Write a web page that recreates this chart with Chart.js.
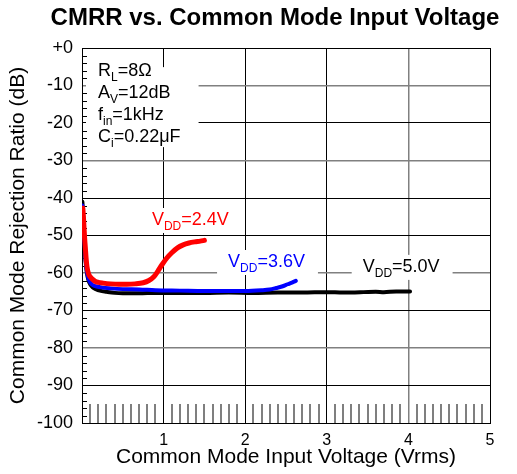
<!DOCTYPE html>
<html lang="en">
<head>
<meta charset="UTF-8">
<title>CMRR vs. Common Mode Input Voltage</title>
<script src="https://cdn.jsdelivr.net/npm/chart.js@4"></script>
<style>
    body { margin: 0; background: #fff; }
    #wrap { width: 517px; height: 474px; }
</style>
</head>
<body>
<div id="wrap"><canvas id="chart" width="517" height="474"></canvas></div>
<script>
// curves, [input Vrms, CMRR dB]
const vdd24 = [
    [0.01, -42.7], [0.02, -46], [0.03, -50], [0.04, -53], [0.05, -56], [0.06, -58.2],
    [0.08, -60.2], [0.10, -61], [0.12, -61.5], [0.16, -62.2], [0.2, -62.5], [0.26, -62.7],
    [0.35, -62.9], [0.45, -63], [0.55, -63], [0.65, -62.9], [0.75, -62.6], [0.82, -62],
    [0.88, -61], [0.93, -59.5], [0.98, -57.8], [1.04, -56], [1.1, -54.6], [1.17, -53.3],
    [1.24, -52.5], [1.31, -52], [1.38, -51.7], [1.45, -51.5], [1.5, -51.3]
];
const vdd36 = [
    [0.005, -42], [0.015, -45.5], [0.025, -49.5], [0.035, -53], [0.045, -56.5], [0.06, -59.5],
    [0.08, -61.5], [0.1, -62.5], [0.13, -63.2], [0.18, -63.6], [0.25, -63.9], [0.35, -64.1],
    [0.5, -64.3], [0.7, -64.4], [0.9, -64.6], [1.2, -64.7], [1.5, -64.8], [1.8, -64.8],
    [2.0, -64.8], [2.2, -64.6], [2.3, -64.4], [2.38, -64.0], [2.45, -63.6], [2.52, -63.0],
    [2.58, -62.5], [2.62, -62.1]
];
const vdd50 = [
    [0.005, -41], [0.015, -45], [0.025, -49.5], [0.035, -53.5], [0.045, -57], [0.06, -60],
    [0.08, -62], [0.1, -63], [0.13, -63.8], [0.17, -64.3], [0.22, -64.7], [0.3, -65],
    [0.4, -65.3], [0.5, -65.4], [0.7, -65.4], [0.9, -65.3], [1.2, -65.3], [1.5, -65.3],
    [1.8, -65.2], [2.1, -65.3], [2.4, -65.2], [2.7, -65.2], [3.0, -65.1], [3.2, -65.2],
    [3.45, -65.1], [3.6, -65.0], [3.7, -65.1], [3.85, -64.9], [4.02, -64.9]
];

const chartTitle = 'CMRR vs. Common Mode Input Voltage';
const xTitle = 'Common Mode Input Voltage (Vrms)';
const yTitle = 'Common Mode Rejection Ratio (dB)';

// text pieces: [main, subscript, rest]
const conditions = [['R', 'L', '=8Ω'], ['A', 'V', '=12dB'], ['f', 'in', '=1kHz'], ['C', 'i', '=0.22μF']];
const curveLabels = [['V', 'DD', '=2.4V'], ['V', 'DD', '=3.6V'], ['V', 'DD', '=5.0V']];

// where the texts sit, in data units (left edge, baseline)
const conditionsAt = [0.196, -7.5];
const curveLabelsAt = [[0.857, -47.2], [1.79, -58.4], [3.44, -59.7]];
const curveColors = ['#ff0000', '#0000ff', '#000000'];

// some grid lines in the original come out grey instead of black
const xGreyLines = [4];
const yGreyLines = [-10, -30, -60, -80];

const FONT = '"Liberation Sans", Arial, Helvetica, sans-serif';

function toPoints(arr) {
    return arr.map(p => ({ x: p[0], y: p[1] }));
}

function partsWidth(ctx, parts) {
    ctx.font = '18px ' + FONT;
    let w = ctx.measureText(parts[0]).width + ctx.measureText(parts[2]).width;
    ctx.font = '12px ' + FONT;
    return w + ctx.measureText(parts[1]).width;
}

function drawParts(ctx, parts, x, y, color) {
    ctx.fillStyle = color;
    ctx.textAlign = 'left';
    ctx.textBaseline = 'alphabetic';
    ctx.font = '18px ' + FONT;
    ctx.fillText(parts[0], x, y);
    x += ctx.measureText(parts[0]).width;
    ctx.font = '12px ' + FONT;
    ctx.fillText(parts[1], x, y + 5);
    x += ctx.measureText(parts[1]).width;
    ctx.font = '18px ' + FONT;
    ctx.fillText(parts[2], x, y);
}

const extras = {
    id: 'extras',
    beforeDatasetsDraw(chart) {
        const { ctx, chartArea: a, scales: { x, y } } = chart;
        ctx.save();

        // test conditions block (white behind it hides the grid)
        const cx = x.getPixelForValue(conditionsAt[0]);
        const cy = y.getPixelForValue(conditionsAt[1]);
        let maxW = 0;
        conditions.forEach(p => { maxW = Math.max(maxW, partsWidth(ctx, p)); });
        ctx.fillStyle = '#fff';
        ctx.fillRect(a.left + 4, cy - 9, cx - a.left - 4 + maxW + 18, 22 * 3 + 14);
        conditions.forEach((p, i) => drawParts(ctx, p, cx, cy + i * 22, '#000'));

        // curve labels
        curveLabels.forEach((p, i) => {
            const lx = x.getPixelForValue(curveLabelsAt[i][0]);
            const ly = y.getPixelForValue(curveLabelsAt[i][1]);
            const w = partsWidth(ctx, p);
            ctx.fillStyle = '#fff';
            ctx.fillRect(lx - 11, ly - 17, w + 24, 25);
            drawParts(ctx, p, lx, ly, curveColors[i]);
        });

        // minor ticks, inside the plot
        ctx.lineWidth = 1;
        ctx.strokeStyle = '#000';
        ctx.beginPath();
        for (let v = -98; v < 0; v += 2) {
            if (v % 10 === 0) continue;
            const py = Math.round(y.getPixelForValue(v)) + 0.5;
            ctx.moveTo(a.left, py);
            ctx.lineTo(a.left + 5, py);
        }
        ctx.stroke();
        ctx.lineWidth = 1.5;
        ctx.strokeStyle = '#555';
        ctx.beginPath();
        for (let i = 1; i < 50; i++) {
            if (i % 10 === 0) continue;
            const px = Math.round(x.getPixelForValue(i / 10));
            ctx.moveTo(px, a.bottom);
            ctx.lineTo(px, a.bottom - 19);
        }
        ctx.stroke();
        ctx.restore();
    },
    afterDraw(chart) {
        // title sits a little right of the canvas centre in the original
        const ctx = chart.ctx;
        ctx.save();
        ctx.font = 'bold 24px ' + FONT;
        ctx.fillStyle = '#000';
        ctx.textAlign = 'center';
        ctx.textBaseline = 'alphabetic';
        ctx.fillText(chartTitle, 275, 25);
        ctx.restore();
    }
};

function gridColor(grey, c) {
    return grey.includes(c.tick.value) ? '#808080' : '#000';
}
function gridWidth(grey, c) {
    return grey.includes(c.tick.value) ? 1.5 : 1;
}

new Chart(document.getElementById('chart'), {
    type: 'scatter',
    data: {
        datasets: [
            { label: 'VDD=2.4V', data: toPoints(vdd24), borderColor: curveColors[0], borderWidth: 5, order: 0 },
            { label: 'VDD=3.6V', data: toPoints(vdd36), borderColor: curveColors[1], borderWidth: 4, order: 1 },
            { label: 'VDD=5.0V', data: toPoints(vdd50), borderColor: curveColors[2], borderWidth: 4, order: 2 }
        ].map(d => Object.assign(d, {
            showLine: true, pointRadius: 0, fill: false,
            cubicInterpolationMode: 'monotone', borderCapStyle: 'round'
        }))
    },
    options: {
        responsive: false,
        animation: false,
        layout: { padding: { top: 48, right: 27, bottom: 0, left: 0 } },
        plugins: {
            legend: { display: false },
            tooltip: { enabled: false },
            title: { display: false }
        },
        scales: {
            x: {
                type: 'linear', min: 0, max: 5,
                ticks: {
                    stepSize: 1, padding: 8, color: '#000',
                    font: { family: FONT, size: 16 },
                    callback: v => v === 0 ? '' : String(v)
                },
                grid: { color: c => gridColor(xGreyLines, c), lineWidth: c => gridWidth(xGreyLines, c), drawTicks: false },
                border: { color: '#000', width: 1 },
                title: {
                    display: true, text: xTitle, color: '#000',
                    font: { family: FONT, size: 21 }, padding: { top: 0, bottom: 4 }
                },
                afterFit: s => { s.height = 51; }
            },
            y: {
                type: 'linear', min: -100, max: 0,
                ticks: {
                    stepSize: 10, padding: 9, color: '#000',
                    font: { family: FONT, size: 18 },
                    callback: v => v === 0 ? '+0' : String(v)
                },
                grid: { color: c => gridColor(yGreyLines, c), lineWidth: c => gridWidth(yGreyLines, c), drawTicks: false },
                border: { color: '#000', width: 1 },
                title: {
                    display: true, text: yTitle, color: '#000',
                    font: { family: FONT, size: 21 }, padding: { top: 6, bottom: 0 }
                },
                afterFit: s => { s.width = 82; }
            }
        }
    },
    plugins: [extras]
});
</script>
</body>
</html>
